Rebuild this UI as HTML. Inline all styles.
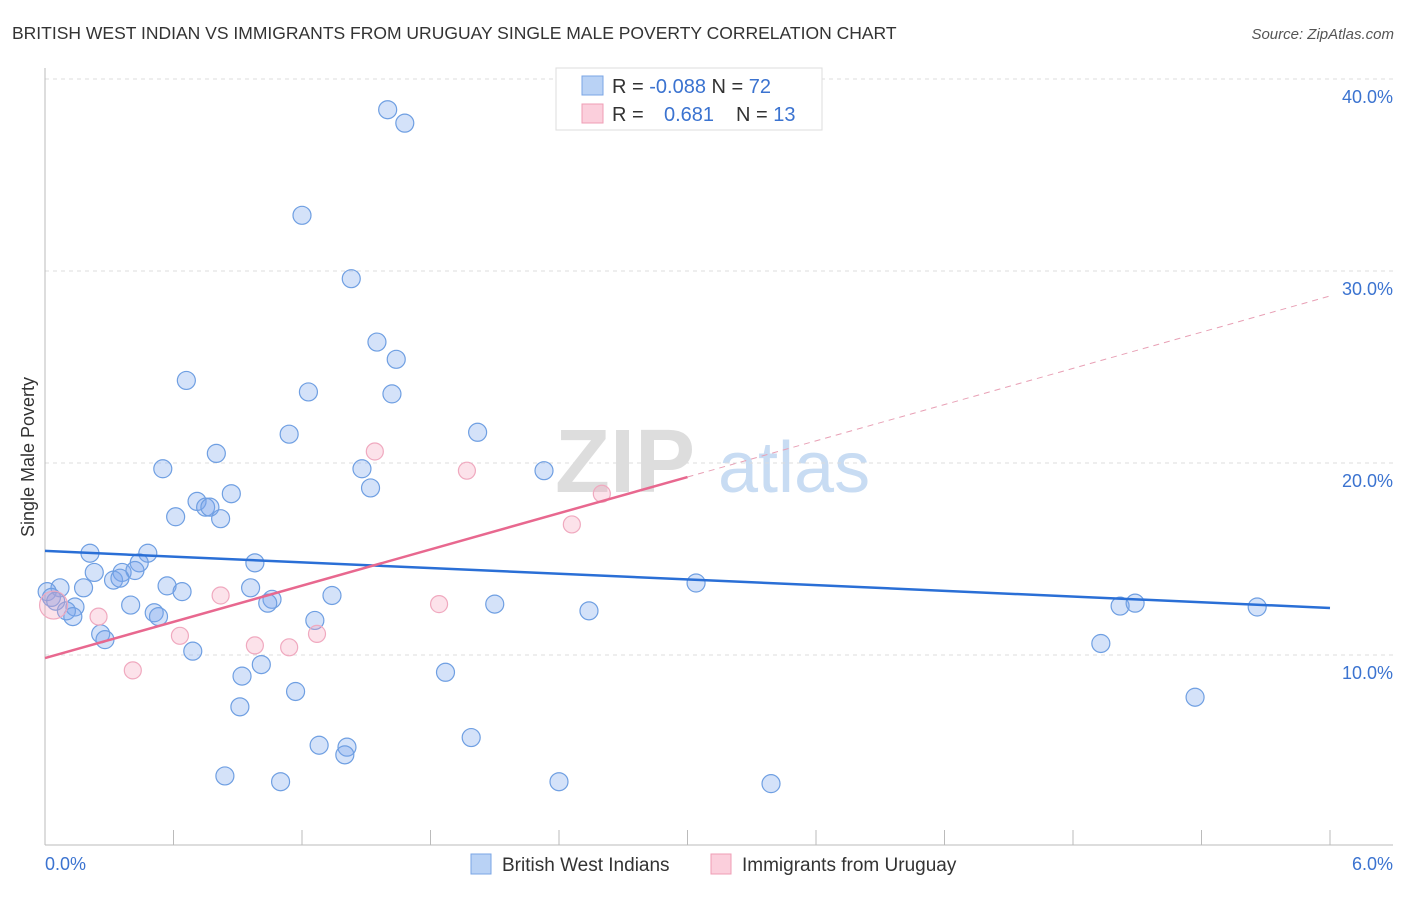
<!DOCTYPE html>
<html><head><meta charset="utf-8"><style>
body{margin:0;background:#fff;font-family:"Liberation Sans",sans-serif;}
svg text{font-family:"Liberation Sans",sans-serif;}
</style></head><body>
<svg id="chart" width="1406" height="892" xmlns="http://www.w3.org/2000/svg">
<text x="12" y="39" font-size="17.5" fill="#333">BRITISH WEST INDIAN VS IMMIGRANTS FROM URUGUAY SINGLE MALE POVERTY CORRELATION CHART</text>
<text x="1394" y="39" font-size="15" fill="#555" font-style="italic" text-anchor="end">Source: ZipAtlas.com</text>
<g>
<text x="555" y="492" font-size="90" fill="#ddd" font-family="Liberation Serif" font-weight="bold">ZIP</text>
<text x="718" y="492" font-size="72" fill="#c8dcf3">atlas</text>
</g>
<g id="grid"></g>
<g id="axes"></g>
<g id="marks"></g>
<text transform="translate(34,457) rotate(-90)" font-size="18" fill="#333" text-anchor="middle">Single Male Poverty</text>
<g>
<rect x="556" y="68" width="266" height="62" fill="#fff" stroke="#ddd"/>
<rect x="582" y="76" width="21" height="19" fill="#b9d2f5" stroke="#7aa5e5"/>
<rect x="582" y="104" width="21" height="19" fill="#fbcfdc" stroke="#ef9db5"/>
<text x="612" y="93" font-size="20" fill="#333">R = <tspan fill="#3b73d0">-0.088</tspan>   N = <tspan fill="#3b73d0">72</tspan></text>
<text x="612" y="121" font-size="20" fill="#333">R = <tspan fill="#3b73d0" x="664">0.681</tspan><tspan x="736">N = </tspan><tspan fill="#3b73d0">13</tspan></text>
</g>
<g>
<rect x="471" y="854" width="20" height="20" fill="#b9d2f5" stroke="#7aa5e5"/>
<text x="502" y="871" font-size="19" fill="#333">British West Indians</text>
<rect x="711" y="854" width="20" height="20" fill="#fbcfdc" stroke="#ef9db5"/>
<text x="742" y="871" font-size="19" fill="#333">Immigrants from Uruguay</text>
</g>
</svg>
<script>
const xTicks=[0,0.6,1.2,1.8,2.4,3.0,3.6,4.2,4.8,5.4,6.0];
const yTicks=[10,20,30,40];
const yTickLabels=["10.0%","20.0%","30.0%","40.0%"];
const xEndLabels=["0.0%","6.0%"];
const blueX=[1.60,1.68,1.20,1.43,1.55,1.64,0.66,1.23,1.62,1.14,2.02,0.80,0.55,1.48,2.33,1.52,0.87,0.71,0.75,0.77,0.61,0.82,0.21,0.48,0.44,0.98,0.36,0.23,0.42,0.32,0.35,3.04,0.07,0.18,0.57,0.64,0.96,0.01,0.03,0.05,1.06,1.04,1.34,0.40,2.10,5.02,5.09,5.66,2.54,0.14,0.10,0.13,0.51,0.53,1.26,0.26,0.28,0.69,4.93,1.87,1.01,0.92,1.17,5.37,0.91,1.99,1.28,1.41,1.40,0.84,1.10,2.40,3.39];
const blueY=[38.4,37.7,32.9,29.6,26.3,25.4,24.3,23.7,23.6,21.5,21.6,20.5,19.7,19.7,19.6,18.7,18.4,18.0,17.7,17.7,17.2,17.1,15.3,15.3,14.8,14.8,14.3,14.3,14.4,13.9,14.0,13.75,13.5,13.5,13.6,13.3,13.5,13.3,13.0,12.8,12.9,12.7,13.1,12.6,12.65,12.55,12.7,12.5,12.3,12.5,12.3,12.0,12.2,12.0,11.8,11.1,10.8,10.2,10.6,9.1,9.5,8.9,8.1,7.8,7.3,5.7,5.3,5.2,4.8,3.7,3.4,3.4,3.3];
const pinkX=[0.04,0.25,0.41,0.63,0.82,0.98,1.14,1.27,1.54,1.84,1.97,2.46,2.60];
const pinkY=[12.6,12.0,9.2,11.0,13.1,10.5,10.4,11.1,20.6,12.65,19.6,16.8,18.4];
const blueTrend=[15.42,12.45];
const pinkTrend=[9.84,28.7];
const pinkSolidEnd=3.0;
const X0=45,X1=1330,Y0=847,PPY=19.2;
const sx=v=>X0+(v/6)*(X1-X0);
const sy=v=>Y0-v*PPY;
const NS="http://www.w3.org/2000/svg";
function mk(tag,attrs,parent){const e=document.createElementNS(NS,tag);for(const k in attrs)e.setAttribute(k,attrs[k]);parent.appendChild(e);return e;}
const grid=document.getElementById('grid'),axes=document.getElementById('axes'),marks=document.getElementById('marks');
yTicks.forEach((t,i)=>{
 const l=mk('line',{x1:45,x2:1393,y1:sy(t),y2:sy(t),stroke:'#ddd','stroke-dasharray':'4,4'},grid);
 
 
 const tx=mk('text',{x:1393,y:sy(t)+24,'font-size':18,fill:'#3b73d0','text-anchor':'end'},axes);
 tx.textContent=yTickLabels[i];
 
 
});
const ax=mk('line',{x1:45,x2:1393,y1:845,y2:845,stroke:'#bbb'},axes);


const ay=mk('line',{x1:45,x2:45,y1:68,y2:845,stroke:'#bbb'},axes);


xTicks.forEach(t=>{
 const l=mk('line',{x1:sx(t),x2:sx(t),y1:830,y2:845,stroke:'#bbb'},axes);
 
 
});
const xl0=mk('text',{x:45,y:870,'font-size':18,fill:'#3b73d0'},axes);xl0.textContent=xEndLabels[0];


const xl1=mk('text',{x:1393,y:870,'font-size':18,fill:'#3b73d0','text-anchor':'end'},axes);xl1.textContent=xEndLabels[1];


blueX.forEach((x,i)=>{
 const c=mk('circle',{cx:sx(x),cy:sy(blueY[i]),r:9,fill:'rgba(120,165,235,0.32)',stroke:'#6f9fe2','stroke-width':1.2},marks);
 
 
});
pinkX.forEach((x,i)=>{
 const c=mk('circle',{cx:sx(x),cy:sy(pinkY[i]),r:i===0?14:8.5,fill:'rgba(245,160,185,0.3)',stroke:'#f0a9bf','stroke-width':1.2},marks);
 
 
});
const bt=mk('line',{x1:sx(0),y1:sy(blueTrend[0]),x2:sx(6),y2:sy(blueTrend[1]),stroke:'#2a6fd6','stroke-width':2.5},marks);


const pAt=x=>pinkTrend[0]+(pinkTrend[1]-pinkTrend[0])*x/6;
const ps=mk('line',{x1:sx(0),y1:sy(pAt(0)),x2:sx(pinkSolidEnd),y2:sy(pAt(pinkSolidEnd)),stroke:'#e8688f','stroke-width':2.5},marks);


const pd=mk('line',{x1:sx(pinkSolidEnd),y1:sy(pAt(pinkSolidEnd)),x2:sx(6),y2:sy(pAt(6)),stroke:'#e8a0b5','stroke-width':1,'stroke-dasharray':'6,5'},marks);


</script>
</body></html>
